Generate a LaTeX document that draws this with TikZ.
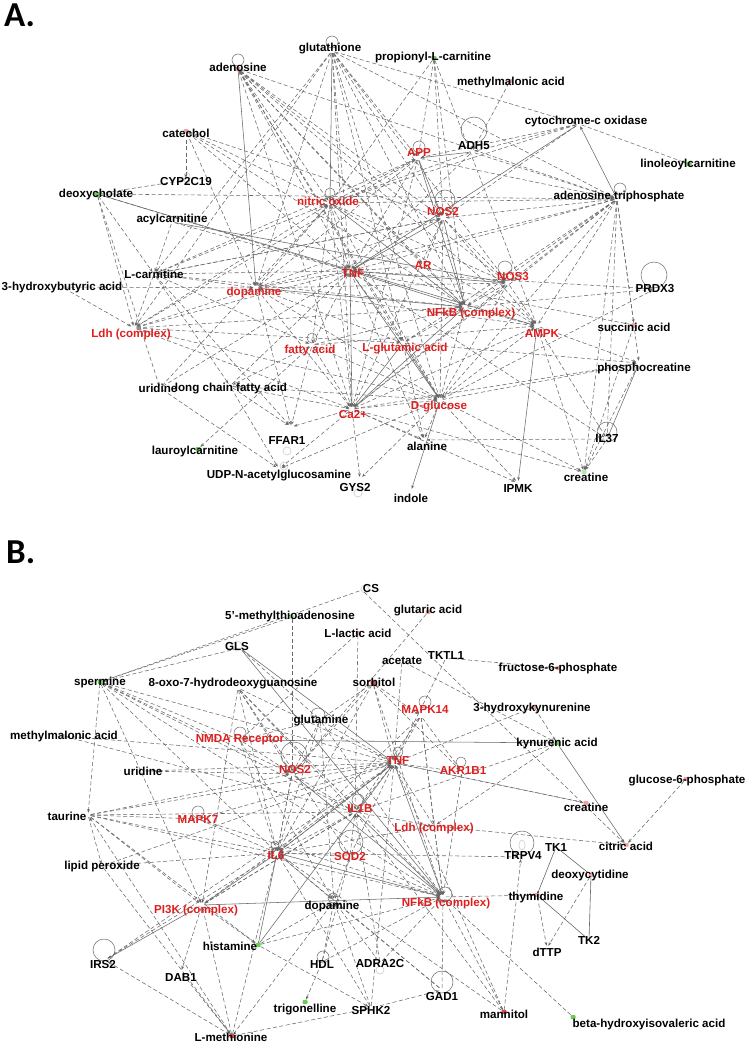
\documentclass[tikz,border=0pt]{standalone}
\usepackage{fontspec}
\setmainfont{Liberation Sans}
\newfontfamily\panelfont{Carlito}
\usetikzlibrary{arrows.meta}
\definecolor{eg}{RGB}{105,105,105}
\definecolor{lblred}{RGB}{225,30,30}
\definecolor{mkpink}{RGB}{240,165,165}
\definecolor{mkgreen}{RGB}{105,205,85}
\definecolor{mklg}{RGB}{185,228,175}
\definecolor{mkred}{RGB}{215,70,70}
\pgfdeclarelayer{edges}
\pgfsetlayers{edges,main}
\newcommand\gnode[6]{\node[mk,#5] (#1) at (#2) {};\node[lab,#6] (#1-lab) at (#3) {#4};}
\begin{document}
\begin{tikzpicture}[x=1pt,y=-1pt,
  mk/.style={inner sep=0pt,minimum width=5pt,minimum height=4pt,rounded corners=0.8pt},
  mkP/.style={fill=mkpink}, mkG/.style={fill=mkgreen}, mkL/.style={fill=mklg},
  mkR/.style={fill=mkred}, mkN/.style={},
  lab/.style={inner sep=0pt,font=\bfseries\fontsize{11.6}{13}\selectfont},
  rl/.style={text=lblred}, bl/.style={text=black},
  ed/.style={draw=eg,line width=0.55pt,-{Stealth[length=3.8pt,width=2.8pt]}},
  sd/.style={ed},
  dd/.style={ed,dash pattern=on 4pt off 2.5pt},
  pl/.style={draw=eg,line width=0.6pt},
  lp/.style={draw=eg,line width=0.5pt},
  lpg/.style={draw=gray!35,line width=0.7pt},
  panel/.style={inner sep=0pt,anchor=base west,font=\panelfont\bfseries\fontsize{35}{35}\selectfont}]
\useasboundingbox (0,0) rectangle (747,1044);
\begin{pgfonlayer}{edges}
\fill[white] (0,0) rectangle (747,1044);
\end{pgfonlayer}
\node[panel] (labA) at (4,26) {A.};
\node[panel] (labB) at (6,563) {B.};
% ---------------- Panel A nodes
\gnode{Aaden}{238,69}{238,67}{adenosine}{mkP}{bl}
\gnode{Aglut}{332,51}{330,49}{glutathione}{mkN}{bl}
\gnode{Aprop}{434,58}{433,58}{propionyl-L-carnitine}{mkG}{bl}
\gnode{Ammal}{510,81}{511,82}{methylmalonic acid}{mkP}{bl}
\gnode{Acyto}{579,124}{586,121}{cytochrome-c oxidase}{mkN}{bl}
\gnode{Alino}{689,164}{688,164}{linoleoylcarnitine}{mkG}{bl}
\gnode{Aadh}{472,152}{474,146}{ADH5}{mkN}{bl}
\gnode{Aapp}{418,158}{419,153}{APP}{mkN}{rl}
\gnode{Acat}{186,131}{186,133}{catechol}{mkP}{bl}
\gnode{Acyp}{186,180}{186,182}{CYP2C19}{mkN}{bl}
\gnode{Adeox}{97,194}{96,194}{deoxycholate}{mkG}{bl}
\gnode{Aacyl}{172,222}{172,219}{acylcarnitine}{mkN}{bl}
\gnode{Ano}{330,203}{328,201}{nitric oxide}{mkN}{rl}
\gnode{Anos2}{443,218}{443,212}{NOS2}{mkN}{rl}
\gnode{Aatp}{617,199}{619,196}{adenosine triphosphate}{mkN}{bl}
\gnode{Alcar}{154,274}{154,274}{L-carnitine}{mkN}{bl}
\gnode{Ahba}{62,287}{62,287}{3-hydroxybutyric acid}{mkN}{bl}
\gnode{Adop}{256,288}{254,292}{dopamine}{mkN}{rl}
\gnode{Atnf}{350,271}{353,274}{TNF}{mkN}{rl}
\gnode{Aar}{424,266}{423,266}{AR}{mkN}{rl}
\gnode{Anos3}{508,283}{513,277}{NOS3}{mkN}{rl}
\gnode{Aprdx}{655,289}{655,289}{PRDX3}{mkN}{bl}
\gnode{Anfkb}{465,307}{471,313}{NFkB (complex)}{mkN}{rl}
\gnode{Aampk}{537,326}{542,334}{AMPK}{mkN}{rl}
\gnode{Asucc}{634,325}{634,327}{succinic acid}{mkP}{bl}
\gnode{Aldh}{134,328}{131,334}{Ldh (complex)}{mkN}{rl}
\gnode{Afa}{312,345}{310,350}{fatty acid}{mkN}{rl}
\gnode{Aglu}{403,343}{405,349}{L-glutamic acid}{mkN}{rl}
\gnode{Aphos}{639,363}{644,368}{phosphocreatine}{mkN}{bl}
\gnode{Aurid}{160,388}{158,388}{uridine}{mkN}{bl}
\gnode{Alcfa}{230,386}{231,389}{long chain fatty acid}{mkN}{bl}
\gnode{Aca}{352,409}{353,415}{Ca2+}{mkN}{rl}
\gnode{Adglc}{440,400}{439,407}{D-glucose}{mkN}{rl}
\gnode{Affar}{291,427}{287,441}{FFAR1}{mkN}{bl}
\gnode{Alaur}{198,449}{195,451}{lauroylcarnitine}{mkG}{bl}
\gnode{Aala}{424,440}{427,446}{alanine}{mkN}{bl}
\gnode{Ail37}{607,439}{607,439}{IL37}{mkN}{bl}
\gnode{Audp}{279,469}{279,476}{UDP-N-acetylglucosamine}{mkN}{bl}
\gnode{Acre}{584,472}{586,477}{creatine}{mkL}{bl}
\gnode{Agys}{360,479}{355,488}{GYS2}{mkN}{bl}
\gnode{Aipmk}{518,483}{518,489}{IPMK}{mkN}{bl}
\gnode{Aind}{411,491}{411,498}{indole}{mkN}{bl}
% ---------------- Panel B nodes
\gnode{Bcs}{362,590}{371,588}{CS}{mkN}{bl}
\gnode{Bmta}{292,617}{290,616}{5'-methylthioadenosine}{mkL}{bl}
\gnode{Bglut}{428,612}{428,611}{glutaric acid}{mkP}{bl}
\gnode{Blac}{358,633}{358,633}{L-lactic acid}{mkP}{bl}
\gnode{Bgls}{240,648}{237,646}{GLS}{mkN}{bl}
\gnode{Bace}{402,661}{402,661}{acetate}{mkN}{bl}
\gnode{Btktl}{446,658}{446,656}{TKTL1}{mkN}{bl}
\gnode{Bf6p}{558,668}{558,668}{fructose-6-phosphate}{mkP}{bl}
\gnode{Bsperm}{100,682}{100,682}{spermine}{mkG}{bl}
\gnode{Boxo}{238,688}{233,684}{8-oxo-7-hydrodeoxyguanosine}{mkN}{bl}
\gnode{Bsorb}{373,683}{374,682}{sorbitol}{mkR}{bl}
\gnode{Bmapk14}{421,716}{425,710}{MAPK14}{mkN}{rl}
\gnode{Bhk}{534,707}{532,708}{3-hydroxykynurenine}{mkP}{bl}
\gnode{Bgln}{320,720}{321,721}{glutamine}{mkN}{bl}
\gnode{Bmma}{63,736}{64,736}{methylmalonic acid}{mkL}{bl}
\gnode{Bnmda}{240,740}{240,740}{NMDA Receptor}{mkN}{rl}
\gnode{Bkyn}{557,743}{557,743}{kynurenic acid}{mkG}{bl}
\gnode{Btnf}{394,763}{398,760}{TNF}{mkN}{rl}
\gnode{Bnos2}{292,774}{295,769}{NOS2}{mkN}{rl}
\gnode{Bakr}{462,772}{463,770}{AKR1B1}{mkN}{rl}
\gnode{Burid}{143,771}{143,771}{uridine}{mkN}{bl}
\gnode{Bg6p}{686,779}{687,781}{glucose-6-phosphate}{mkP}{bl}
\gnode{Bcre}{586,803}{586,807}{creatine}{mkP}{bl}
\gnode{Bil1b}{355,812}{360,808}{IL1B}{mkN}{rl}
\gnode{Btau}{88,815}{67,816}{taurine}{mkN}{bl}
\gnode{Bmapk7}{198,819}{198,819}{MAPK7}{mkN}{rl}
\gnode{Bldh}{434,826}{434,828}{Ldh (complex)}{mkN}{rl}
\gnode{Bcit}{626,845}{626,846}{citric acid}{mkP}{bl}
\gnode{Btk1}{556,847}{556,847}{TK1}{mkN}{bl}
\gnode{Btrpv}{521,857}{523,855}{TRPV4}{mkN}{bl}
\gnode{Bil6}{277,853}{276,855}{IL6}{mkN}{rl}
\gnode{Bsod}{350,856}{350,856}{SOD2}{mkN}{rl}
\gnode{Blp}{102,866}{102,866}{lipid peroxide}{mkN}{bl}
\gnode{Bdc}{591,875}{590,875}{deoxycytidine}{mkP}{bl}
\gnode{Bthy}{537,895}{536,897}{thymidine}{mkP}{bl}
\gnode{Bnfkb}{443,897}{446,903}{NFkB (complex)}{mkN}{rl}
\gnode{Bdop}{334,901}{332,906}{dopamine}{mkN}{bl}
\gnode{Bpi3k}{202,905}{196,910}{PI3K (complex)}{mkN}{rl}
\gnode{Btk2}{589,940}{589,940}{TK2}{mkN}{bl}
\gnode{Bdttp}{547,948}{547,952}{dTTP}{mkN}{bl}
\gnode{Bhist}{258,945}{230,946}{histamine}{mkG}{bl}
\gnode{Birs}{105,960}{103,964}{IRS2}{mkN}{bl}
\gnode{Bhdl}{322,962}{322,964}{HDL}{mkN}{bl}
\gnode{Badra}{380,963}{380,963}{ADRA2C}{mkN}{bl}
\gnode{Bdab}{181,972}{181,977}{DAB1}{mkN}{bl}
\gnode{Bgad}{442,990}{442,996}{GAD1}{mkN}{bl}
\gnode{Bsphk}{371,1008}{371,1010}{SPHK2}{mkN}{bl}
\gnode{Btrig}{305,1002}{305,1010}{trigonelline}{mkG}{bl}
\gnode{Bman}{504,1012}{504,1014}{mannitol}{mkR}{bl}
\gnode{Bbhiv}{573,1017}{649,1024}{beta-hydroxyisovaleric acid}{mkG}{bl}
\gnode{Bmet}{232,1036}{231,1037}{L-methionine}{mkR}{bl}
\begin{pgfonlayer}{edges}
% ---- Panel A loops
\draw[lp] (Aaden) ++(0,-9) circle[radius=6];
\draw[lp] (Aglut) ++(0,-9) circle[radius=6];
\draw[lp] (Aadh) ++(2,-22) circle[radius=13];
\draw[lp] (Aapp) ++(1,-11) circle[radius=6];
\draw[lp] (Anos2) ++(2,-18) circle[radius=10];
\draw[lp] (Ano) ++(0,-10) circle[radius=5];
\draw[lp] (Aatp) ++(3,-10) circle[radius=6];
\draw[lp] (Anos3) ++(-3,-15) circle[radius=7];
\draw[lp] (Aprdx) ++(-1,-14) circle[radius=13];
\draw[lp] (Afa) ++(0,-7) circle[radius=5];
\draw[lp] (Ail37) ++(0,-7) circle[radius=10];
\draw[lpg] (Audp) ++(5,-3) circle[radius=4];
\draw[lpg] (Affar) ++(-4,24) circle[radius=4];
\draw[lpg] (Agys) ++(-2,14) circle[radius=4];
\draw[lpg] (Acyp) ++(1,-2) ellipse[x radius=3,y radius=6];
% ---- Panel B loops
\draw[lpg] (Bcs) ++(3,-1) circle[radius=4];
\draw[lpg] (Bgls) ++(-3,-2) circle[radius=5];
\draw[lp] (Bgln) ++(-2,-5) circle[radius=7];
\draw[lp] (Bmapk14) ++(4,-14) circle[radius=6];
\draw[lp] (Bnmda) ++(0,-7) circle[radius=6];
\draw[lp] (Bnos2) ++(2,-19) circle[radius=13];
\draw[lp] (Btnf) ++(4,-11) circle[radius=5];
\draw[lp] (Bakr) ++(-1,-10) circle[radius=5];
\draw[lp] (Bil1b) ++(3,-12) circle[radius=6];
\draw[lp] (Bmapk7) ++(0,-7) circle[radius=6];
\draw[lp] (Bsod) ++(1,-14) circle[radius=12];
\draw[lp] (Bil6) ++(-2,-8) circle[radius=4];
\draw[lp] (Btrpv) ++(1,-14) circle[radius=12];
\draw[lpg] (Btrpv) ++(1,-12) ellipse[x radius=3,y radius=5];
\draw[lp] (Bnfkb) ++(2,-3) circle[radius=7];
\draw[lp] (Birs) ++(-1,-10) circle[radius=11];
\draw[lp] (Bhdl) ++(1,-5) circle[radius=6];
\draw[lpg] (Badra) ++(0,7) circle[radius=4];
\draw[lp] (Bgad) ++(0,-8) circle[radius=11];
\draw[lp] (Bdop) ++(-1,-3) circle[radius=5];
% ---- Panel A solid edges
\foreach \a/\b in {Aaden/Adop, Aglut/Ano, Acyto/Atnf, Aglu/Adglc, Aampk/Aipmk,
  Ail37/Aphos, Adglc/Aind, Ano/Anfkb, Atnf/Anfkb, Aapp/Anfkb, Anos2/Anfkb,
  Aca/Anfkb, Adop/Anfkb, Aacyl/Anos3, Atnf/Anos3, Aca/Atnf, Atnf/Adglc,
  Anos2/Atnf, Aapp/Anos2, Aadh/Aapp, Adeox/Aampk, Aglu/Aca}
  \draw[sd] (\a) -- (\b);
\draw[sd,{Stealth[length=3.8pt,width=2.8pt]}-{Stealth[length=3.8pt,width=2.8pt]}] (Acyto) -- (Aatp);
% ---- Panel A dashed edges
\foreach \a/\b in {Aaden/Ano, Aaden/Atnf, Aaden/Anos2, Aaden/Anfkb, Aaden/Aampk,
  Aaden/Adglc, Aaden/Aatp, Aaden/Aglu, Aaden/Aca, Aaden/Anos3, Aaden/Aar,
  Aglut/Atnf, Aglut/Anos2, Aglut/Aapp, Aglut/Anfkb, Aglut/Anos3, Aglut/Adglc,
  Aglut/Aca, Aglut/Alcar, Aglut/Aatp, Aglut/Aglu, Aglut/Acyto, Aglut/Adop, Aglut/Aldh,
  Aprop/Ano, Aprop/Anos2, Aprop/Anfkb, Aprop/Aapp, Aprop/Aampk,
  Ammal/Aadh, Acyto/Alino, Acyto/Aapp, Acyto/Anos2, Acyto/Ano, Acyto/Aadh,
  Aadh/Ano, Aadh/Atnf, Aadh/Aatp,
  Acat/Acyp, Acat/Ano, Acat/Atnf, Acat/Anos2, Acat/Anfkb, Acat/Adop,
  Adeox/Acyp, Adeox/Aatp, Adeox/Aldh, Adeox/Alcar, Adeox/Atnf, Adeox/Aurid,
  Aacyl/Atnf, Aacyl/Alcar,
  Ano/Atnf, Ano/Aca, Ano/Adglc, Ano/Aampk, Ano/Afa, Ano/Aapp, Ano/Anos3,
  Aapp/Atnf, Aapp/Aldh, Aapp/Adop, Aapp/Aatp, Aapp/Aca,
  Anos2/Aampk, Anos2/Anos3, Anos2/Adglc, Anos2/Alcar,
  Aatp/Aampk, Aatp/Anos3, Aatp/Asucc, Aatp/Aphos, Aatp/Acre, Aatp/Ail37,
  Aatp/Adglc, Aatp/Anfkb, Aatp/Atnf, Aatp/Ano, Aatp/Anos2, Aatp/Aca, Aatp/Adop, Aatp/Aglu,
  Alcar/Atnf, Alcar/Adop, Alcar/Ano, Alcar/Aapp, Alcar/Aldh, Alcar/Afa,
  Alcar/Alcfa, Alcar/Anfkb, Alcar/Anos2, Alcar/Affar,
  Ahba/Adop, Ahba/Aldh,
  Aldh/Atnf, Aldh/Adop, Aldh/Ano, Aldh/Anfkb, Aldh/Adglc, Aldh/Aca, Aldh/Aglu,
  Adop/Atnf, Adop/Ano, Adop/Anos2, Adop/Aca, Adop/Adglc, Adop/Aglu,
  Adop/Affar, Adop/Aampk, Adop/Anos3,
  Afa/Affar, Afa/Aca, Afa/Atnf, Afa/Anfkb, Afa/Adglc, Afa/Alcfa, Afa/Alaur, Afa/Aampk,
  Aurid/Audp, Aurid/Atnf, Aurid/Ano,
  Alcfa/Affar, Alcfa/Atnf, Alcfa/Adglc, Alcfa/Aca, Alcfa/Audp,
  Aca/Agys, Aca/Aala, Aca/Affar, Aca/Adglc, Aca/Anos3, Aca/Anos2, Aca/Aampk,
  Aca/Aipmk, Aca/Aphos, Aca/Acre, Aca/Audp,
  Adglc/Agys, Adglc/Aala, Adglc/Aipmk, Adglc/Acre, Adglc/Aampk, Adglc/Anfkb,
  Adglc/Aphos, Adglc/Aprdx, Adglc/Audp,
  Aglu/Anfkb, Aglu/Atnf, Aglu/Aala, Aglu/Aphos,
  Aar/Atnf, Aar/Anfkb, Aar/Anos2,
  Anos3/Anfkb, Anos3/Aampk, Anos3/Adglc,
  Anfkb/Aprdx, Anfkb/Aampk,
  Aampk/Acre, Aampk/Aphos, Aampk/Ail37,
  Ail37/Acre, Ail37/Aala, Asucc/Acre, Asucc/Atnf,
  Aprdx/Atnf, Aphos/Acre, Atnf/Ail37, Atnf/Aala}
  \draw[dd] (\a) -- (\b);
% ---- Panel B solid edges
\foreach \a/\b in {Bgls/Btnf, Bgls/Bnfkb, Bnmda/Bkyn, Bkyn/Bcit, Bpi3k/Birs,
  Bpi3k/Bnfkb, Bhist/Bil6, Bhist/Btnf, Bil6/Bnfkb, Btnf/Bnfkb, Btnf/Bil6,
  Bil1b/Bnfkb, Bil6/Bpi3k, Bnos2/Bnfkb}
  \draw[sd] (\a) -- (\b);
\foreach \a/\b in {Bthy/Btk1, Bthy/Btk2, Btk1/Bdc, Bdc/Btk2}
  \draw[pl] (\a) -- (\b);
% ---- Panel B dashed edges
\foreach \a/\b in {Bcs/Bsperm, Bcs/Bcit, Bmta/Bsperm, Bmta/Bnos2, Bglut/Bnos2,
  Blac/Bil1b, Blac/Bnmda, Bgls/Bsperm, Bgls/Bgln, Bace/Btnf, Bace/Bkyn,
  Btktl/Bf6p, Btktl/Btnf,
  Bsorb/Bakr, Bsorb/Btnf, Bsorb/Bnfkb, Bsorb/Bgln, Bsorb/Bil6, Bsorb/Bmapk14, Bsorb/Bnos2,
  Bhk/Bkyn, Bhk/Btnf, Bkyn/Bil1b, Bkyn/Bldh,
  Bmapk14/Btnf, Bmapk14/Bil6, Bmapk14/Bil1b, Bmapk14/Bnfkb, Bmapk14/Bakr, Bmapk14/Bldh,
  Bgln/Bnos2, Bgln/Btnf, Bgln/Bil6, Bgln/Bnfkb, Bgln/Bdop, Bgln/Bnmda,
  Bmma/Bil1b, Bmma/Btnf, Bnmda/Bnos2, Bnmda/Bdop, Bnmda/Bil6,
  Bsperm/Bnos2, Bsperm/Btnf, Bsperm/Bnmda, Bsperm/Bil6, Bsperm/Bil1b,
  Bsperm/Btau, Bsperm/Bpi3k, Bsperm/Bnfkb,
  Boxo/Bnos2, Boxo/Btnf, Boxo/Bil6, Boxo/Bil1b, Boxo/Bsod, Boxo/Bpi3k, Boxo/Bnfkb,
  Burid/Btnf, Burid/Bnos2,
  Btau/Bil6, Btau/Btnf, Btau/Bnos2, Btau/Bil1b, Btau/Blp, Btau/Bpi3k,
  Btau/Bmapk7, Btau/Bnfkb, Btau/Bhist,
  Bmapk7/Bil6, Bmapk7/Btnf, Bmapk7/Bnfkb,
  Blp/Bil6, Blp/Bmet, Blp/Btnf,
  Bpi3k/Bhist, Bpi3k/Bdab, Bpi3k/Btnf, Bpi3k/Bil1b,
  Birs/Bil6, Birs/Btnf, Bdab/Bmet,
  Bmet/Birs, Bmet/Bsphk, Bmet/Bdop, Bmet/Bpi3k, Bmet/Bil6, Bmet/Btau,
  Bhist/Bnfkb, Bhist/Bsphk, Bhist/Bdop,
  Bhdl/Btrig, Bhdl/Bdop, Bhdl/Bsod, Bhdl/Bnfkb,
  Bsphk/Bgad, Bsphk/Bil6, Bsphk/Btnf, Bsphk/Bdop,
  Badra/Bdop, Badra/Bil1b, Badra/Bnfkb,
  Bgad/Bnfkb, Bgad/Bil6, Bgad/Bdop,
  Bman/Btrpv, Bman/Btnf, Bman/Bnfkb, Bman/Bil1b, Bman/Bil6,
  Bbhiv/Bnfkb, Bnfkb/Bthy, Bthy/Bdttp, Bdc/Bdttp, Bg6p/Bcit,
  Bldh/Bcit, Bldh/Btnf, Bldh/Bil6, Bldh/Bnfkb, Bcre/Btnf,
  Bsod/Bil1b, Bsod/Btnf, Bsod/Bdop, Bsod/Bnfkb, Bsod/Bil6,
  Bil1b/Btnf, Bil1b/Bil6, Bil1b/Bldh, Bil1b/Bpi3k,
  Bakr/Btnf, Bakr/Bnfkb, Bil6/Btnf, Bil6/Bnos2, Bil6/Bdop, Bil6/Btrpv,
  Bnos2/Btnf, Bnos2/Bil6, Bnos2/Bil1b, Btnf/Bcre}
  \draw[dd] (\a) -- (\b);
\end{pgfonlayer}
\end{tikzpicture}
\end{document}
